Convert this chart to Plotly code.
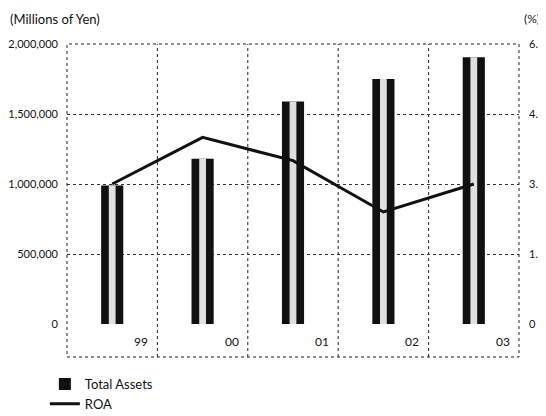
import plotly.graph_objects as go

years = ["99", "00", "01", "02", "03"]
total_assets = [990000, 1180000, 1590000, 1750000, 1905000]
roa = [3.0, 4.0, 3.5, 2.4, 3.0]
left_ticks = [0, 500000, 1000000, 1500000, 2000000]
left_tick_text = ["0", "500,000", "1,000,000", "1,500,000", "2,000,000"]
right_ticks = [0, 1.5, 3.0, 4.5, 6.0]
right_tick_text = ["0", "1.5", "3.0", "4.5", "6.0"]

FONT = "Lato"
idx = list(range(len(years)))

fig = go.Figure()
fig.add_trace(go.Bar(x=idx, y=total_assets, width=0.245, name="Total Assets",
                     marker=dict(color="#111111", line=dict(width=0)), yaxis="y"))
fig.add_trace(go.Bar(x=idx, y=total_assets, width=0.075, showlegend=False,
                     marker=dict(color="#e0e0e0", line=dict(width=0)), yaxis="y",
                     hoverinfo="skip"))
fig.add_trace(go.Scatter(x=idx, y=roa, mode="lines", name="ROA", yaxis="y2",
                         line=dict(color="#111111", width=3)))

PH = 280.0
PW = 452.0
shapes = []
ybot = -33 / PH
shapes.append(dict(type="rect", xref="paper", yref="paper", x0=0, x1=1, y0=ybot, y1=1,
                   line=dict(color="#222", width=1, dash="dot"), layer="above"))
for i in range(len(years) - 1):
    shapes.append(dict(type="line", xref="x", yref="paper", x0=i + 0.5, x1=i + 0.5,
                       y0=ybot, y1=1, line=dict(color="#222", width=1, dash="dot"),
                       layer="below"))

annotations = []
for i, yr in enumerate(years):
    annotations.append(dict(x=i + 0.42, y=-17 / PH, xref="x", yref="paper", text=yr,
                            showarrow=False, xanchor="right", yanchor="middle",
                            font=dict(family=FONT, size=12, color="#111")))
annotations.append(dict(x=-59 / PW, y=1 + 35 / PH, xref="paper", yref="paper",
                        text="(Millions of Yen)", showarrow=False, xanchor="left",
                        yanchor="top", font=dict(family=FONT, size=13, color="#111")))
annotations.append(dict(x=1 + 23 / PW, y=1 + 35 / PH, xref="paper", yref="paper",
                        text="(%)", showarrow=False, xanchor="right",
                        yanchor="top", font=dict(family=FONT, size=12, color="#111")))

fig.update_layout(
    width=538, height=408,
    margin=dict(l=59, r=27, t=36, b=92, autoexpand=False),
    paper_bgcolor="white", plot_bgcolor="white",
    barmode="overlay",
    font=dict(family=FONT, size=11, color="#111"),
    xaxis=dict(range=[-0.5, 4.5], showticklabels=False, showgrid=False,
               zeroline=False, showline=False, ticks=""),
    yaxis=dict(range=[0, 2000000], tickvals=left_ticks, ticktext=left_tick_text,
               showgrid=True, gridcolor="#333", griddash="dot", gridwidth=1,
               zeroline=False, showline=False, ticks="", ticklabelstandoff=8,
               automargin=False, tickfont=dict(family=FONT, size=11)),
    yaxis2=dict(range=[0, 6], tickvals=right_ticks, ticktext=right_tick_text,
                overlaying="y", side="right", showgrid=False, zeroline=False,
                showline=False, ticks="", ticklabelstandoff=9, automargin=False,
                tickfont=dict(family=FONT, size=11)),
    shapes=shapes,
    annotations=annotations,
    showlegend=True,
    legend=dict(x=-0.049, y=-45 / PH, xanchor="left", yanchor="top", orientation="v",
                font=dict(family=FONT, size=13), bgcolor="rgba(0,0,0,0)",
                itemwidth=30, tracegroupgap=0),
)

fig.write_html("out.html")
